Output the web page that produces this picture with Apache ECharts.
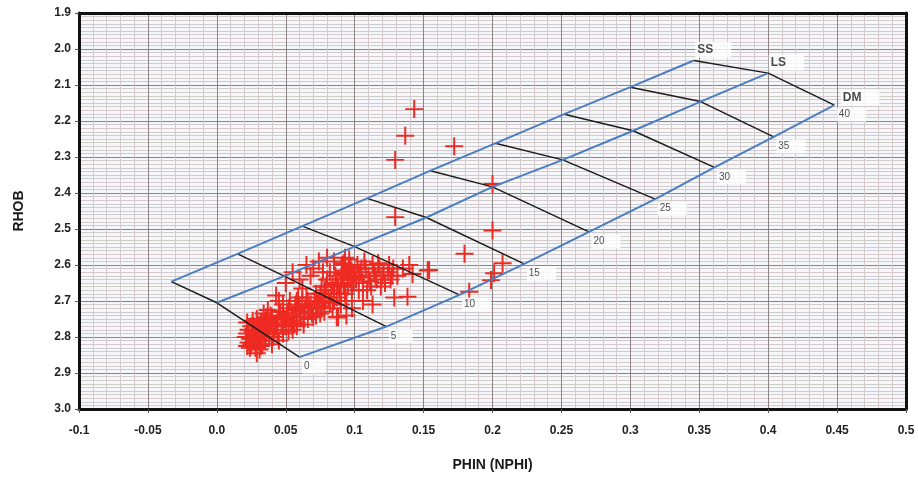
<!DOCTYPE html>
<html><head><meta charset="utf-8">
<script src="https://cdn.jsdelivr.net/npm/echarts@6/dist/echarts.min.js"></script>
<style>html,body{margin:0;padding:0;background:#fff}#c{width:918px;height:479px}</style>
</head><body><div id="c"></div>
<script>
const xTickLabels = ['-0.1','-0.05','0.0','0.05','0.1','0.15','0.2','0.25','0.3','0.35','0.4','0.45','0.5'];
const yTickLabels = ['1.9','2.0','2.1','2.2','2.3','2.4','2.5','2.6','2.7','2.8','2.9','3.0'];
const xMin = -0.1, xMax = 0.5, xStep = 0.05;
const yMin = 1.9, yMax = 3.0, yStep = 0.1;

const lithNames = ['SS','LS','DM'];
const porosity = [0,5,10,15,20,25,30,35,40];
const ssX = [-0.033, 0.015, 0.062, 0.109, 0.155, 0.202, 0.252, 0.300, 0.346];
const ssY = [2.646, 2.569, 2.492, 2.415, 2.338, 2.262, 2.181, 2.106, 2.032];
const lsX = [0.000, 0.049, 0.100, 0.152, 0.200, 0.251, 0.302, 0.351, 0.400];
const lsY = [2.705, 2.631, 2.549, 2.468, 2.383, 2.308, 2.227, 2.146, 2.067];
const dmX = [0.060, 0.123, 0.176, 0.223, 0.270, 0.318, 0.361, 0.404, 0.448];
const dmY = [2.856, 2.771, 2.683, 2.597, 2.508, 2.417, 2.329, 2.244, 2.156];

// measured samples: PHIN (NPHI) and RHOB
const phin = [
 0.021,0.023,0.025,0.022,0.028,0.030,0.024,0.027,0.032,0.034,0.029,0.037,0.038,0.033,0.026,0.031,0.036,0.040,0.042,0.026,0.035,0.039,0.044,0.041,0.030,0.023,0.028,0.036,0.043,0.047,
 0.022,0.024,0.026,0.029,0.031,0.033,0.035,0.027,0.032,0.025,0.038,0.040,0.042,0.045,0.048,0.034,0.037,0.029,0.022,0.044,
 0.040,0.045,0.048,0.052,0.055,0.058,0.063,
 0.046,0.049,0.052,0.050,0.055,0.057,0.060,0.058,0.062,0.064,0.066,0.068,0.053,0.048,0.056,0.061,0.065,0.069,0.045,0.059,
 0.051,0.054,0.057,0.063,0.067,0.070,0.073,0.076,0.079,0.082,0.085,0.088,0.058,0.066,0.072,0.078,0.084,0.087,0.060,0.075,
 0.071,0.073,0.075,0.077,0.079,0.081,0.083,0.085,0.087,0.089,0.072,0.076,0.080,0.084,0.088,0.090,0.074,0.082,0.086,0.078,
 0.091,0.093,0.094,0.092,0.095,0.093,0.096,0.097,0.090,0.094,0.098,0.092,0.096,0.099,0.091,
 0.092,0.095,0.097,0.100,0.103,0.105,0.111,0.115,0.121,0.127,0.093,0.099,
 0.101,0.104,0.106,0.108,0.110,0.112,0.114,0.116,0.118,0.120,0.122,0.124,0.126,0.128,0.103,0.107,0.113,0.119,0.125,0.131,0.102,0.109,0.117,
 0.135,0.142,0.153,
 0.055,0.065,0.074,0.080,0.043,0.050,0.060,0.070,0.085,0.062,0.068,0.077,
 0.087,0.094,0.098,0.106,0.113,
 0.1432,0.1367,0.1294,0.1722,0.1294,0.2000,0.2000,0.1797,0.2073,0.2012,0.1989,0.1831,0.1540,0.1383,0.1287,0.1396
];
const rhob = [
 2.800,2.780,2.820,2.760,2.790,2.810,2.830,2.770,2.760,2.790,2.750,2.770,2.800,2.820,2.800,2.835,2.745,2.760,2.780,2.755,2.810,2.740,2.750,2.800,2.780,2.815,2.830,2.790,2.770,2.760,
 2.790,2.805,2.785,2.765,2.795,2.775,2.755,2.810,2.825,2.770,2.785,2.745,2.765,2.730,2.745,2.735,2.725,2.845,2.825,2.790,
 2.820,2.810,2.790,2.785,2.780,2.770,2.765,
 2.730,2.750,2.720,2.770,2.740,2.710,2.730,2.760,2.700,2.720,2.750,2.710,2.700,2.710,2.765,2.745,2.690,2.735,2.700,2.690,
 2.735,2.755,2.725,2.735,2.720,2.745,2.705,2.715,2.690,2.705,2.680,2.660,2.700,2.700,2.680,2.670,2.655,2.690,2.715,2.735,
 2.700,2.720,2.680,2.700,2.660,2.690,2.670,2.700,2.650,2.680,2.740,2.660,2.640,2.720,2.745,2.710,2.700,2.620,2.630,2.730,
 2.600,2.580,2.620,2.640,2.660,2.680,2.610,2.640,2.660,2.700,2.670,2.595,2.585,2.630,2.625,
 2.655,2.635,2.605,2.620,2.635,2.610,2.645,2.630,2.620,2.630,2.615,2.650,
 2.640,2.620,2.650,2.610,2.630,2.660,2.620,2.640,2.610,2.630,2.650,2.620,2.640,2.610,2.670,2.590,2.600,2.660,2.600,2.630,2.600,2.670,2.595,
 2.610,2.625,2.615,
 2.620,2.600,2.590,2.580,2.685,2.650,2.640,2.610,2.590,2.665,2.630,2.620,
 2.745,2.740,2.720,2.700,2.710,
 2.167,2.241,2.308,2.270,2.467,2.375,2.504,2.569,2.595,2.623,2.642,2.674,2.614,2.688,2.690,2.600
];

const FONT = '"Liberation Sans", Arial, sans-serif';
const BLUE = '#4a7dc2';
const RED = '#ee2a22';
const crossPath = 'path://M8.9,0h2.2v8.9h8.9v2.2h-8.9v8.9h-2.2v-8.9h-8.9v-2.2h8.9z';

const xLab = v => xTickLabels[Math.round((v - xMin) / xStep)];
const yLab = v => yTickLabels[Math.round((v - yMin) / yStep)];

const series = [];
series.push({
  type: 'scatter', name: 'data', z: 2,
  data: phin.map((x, i) => [x, rhob[i]]),
  symbol: crossPath, symbolSize: 18,
  itemStyle: { color: RED, opacity: 1 },
  silent: true
});
porosity.forEach((p, i) => {
  series.push({
    type: 'line', z: 3, symbol: 'none', silent: true,
    data: [[ssX[i], ssY[i]], [lsX[i], lsY[i]], [dmX[i], dmY[i]]],
    lineStyle: { color: '#1c1c1c', width: 1.5 }
  });
});
[[ssX, ssY], [lsX, lsY], [dmX, dmY]].forEach(([xs, ys]) => {
  series.push({
    type: 'line', z: 4, symbol: 'none', silent: true,
    data: xs.map((x, i) => [x, ys[i]]),
    lineStyle: { color: BLUE, width: 2 }
  });
});
// porosity labels at dolomite line
series.push({
  type: 'scatter', z: 5, silent: true,
  data: dmX.map((x, i) => ({ value: [x, dmY[i]], name: String(porosity[i]) })),
  symbolSize: 1, itemStyle: { color: 'rgba(0,0,0,0)' },
  label: {
    show: true, formatter: '{b}', position: [3, 3],
    color: '#222', fontSize: 10, fontFamily: FONT,
    backgroundColor: '#fff', padding: [2, 16, 2, 2]
  }
});
// lithology labels at the 40% end
const endPts = [[ssX[8], ssY[8]], [lsX[8], lsY[8]], [dmX[8], dmY[8]]];
const endPos = [[2, -18], [1, -18], [7, -15]];
series.push({
  type: 'scatter', z: 5, silent: true,
  data: endPts.map((p, i) => ({
    value: p, name: lithNames[i],
    label: { position: endPos[i] }
  })),
  symbolSize: 1, itemStyle: { color: 'rgba(0,0,0,0)' },
  label: {
    show: true, formatter: '{b}',
    color: '#1a1a1a', fontSize: 12, fontWeight: 'bold', fontFamily: FONT,
    backgroundColor: '#fff', padding: [2, 18, 2, 2]
  }
});

const majorLine = { show: true, lineStyle: { color: '#8e8383', width: 1 } };
const minorLine = { show: true, lineStyle: { color: '#d3cbcb', width: 1 } };

const option = {
  animation: false,
  backgroundColor: '#fff',
  grid: { left: 79, right: 12, top: 13, bottom: 70, show: true, backgroundColor: '#f5f7fa', borderWidth: 0 },
  xAxis: [{
    type: 'value', min: xMin, max: xMax, interval: xStep,
    name: 'PHIN (NPHI)', nameLocation: 'middle', nameGap: 49,
    nameTextStyle: { fontSize: 14, fontWeight: 'bold', color: '#1a1a1a', fontFamily: FONT },
    axisLine: { show: true, onZero: false, lineStyle: { color: '#111', width: 3 } },
    axisTick: { show: true, length: 4, lineStyle: { color: '#555' } },
    minorTick: { show: false, splitNumber: 5 },
    splitLine: majorLine, minorSplitLine: minorLine,
    axisLabel: { formatter: xLab, fontSize: 12, fontWeight: 'bold', color: '#222', fontFamily: FONT, margin: 16 }
  }, {
    type: 'value', min: xMin, max: xMax, interval: xStep, position: 'top',
    axisLine: { show: true, onZero: false, lineStyle: { color: '#111', width: 3 } },
    axisTick: { show: false }, axisLabel: { show: false }, splitLine: { show: false }
  }],
  yAxis: [{
    type: 'value', inverse: true, min: yMin, max: yMax, interval: yStep,
    name: 'RHOB', nameLocation: 'middle', nameGap: 53,
    nameTextStyle: { fontSize: 14, fontWeight: 'bold', color: '#1a1a1a', fontFamily: FONT },
    axisLine: { show: true, onZero: false, lineStyle: { color: '#111', width: 3 } },
    axisTick: { show: true, length: 4, lineStyle: { color: '#555' } },
    minorTick: { show: false, splitNumber: 10 },
    splitLine: majorLine, minorSplitLine: minorLine,
    axisLabel: { formatter: yLab, fontSize: 12, fontWeight: 'bold', color: '#222', fontFamily: FONT, margin: 8 }
  }, {
    type: 'value', inverse: true, min: yMin, max: yMax, interval: yStep, position: 'right',
    axisLine: { show: true, onZero: false, lineStyle: { color: '#111', width: 3 } },
    axisTick: { show: false }, axisLabel: { show: false }, splitLine: { show: false }
  }],
  series: series
};
const chart = echarts.init(document.getElementById('c'), null, { renderer: 'canvas' });
chart.setOption(option);
</script>
</body></html>
